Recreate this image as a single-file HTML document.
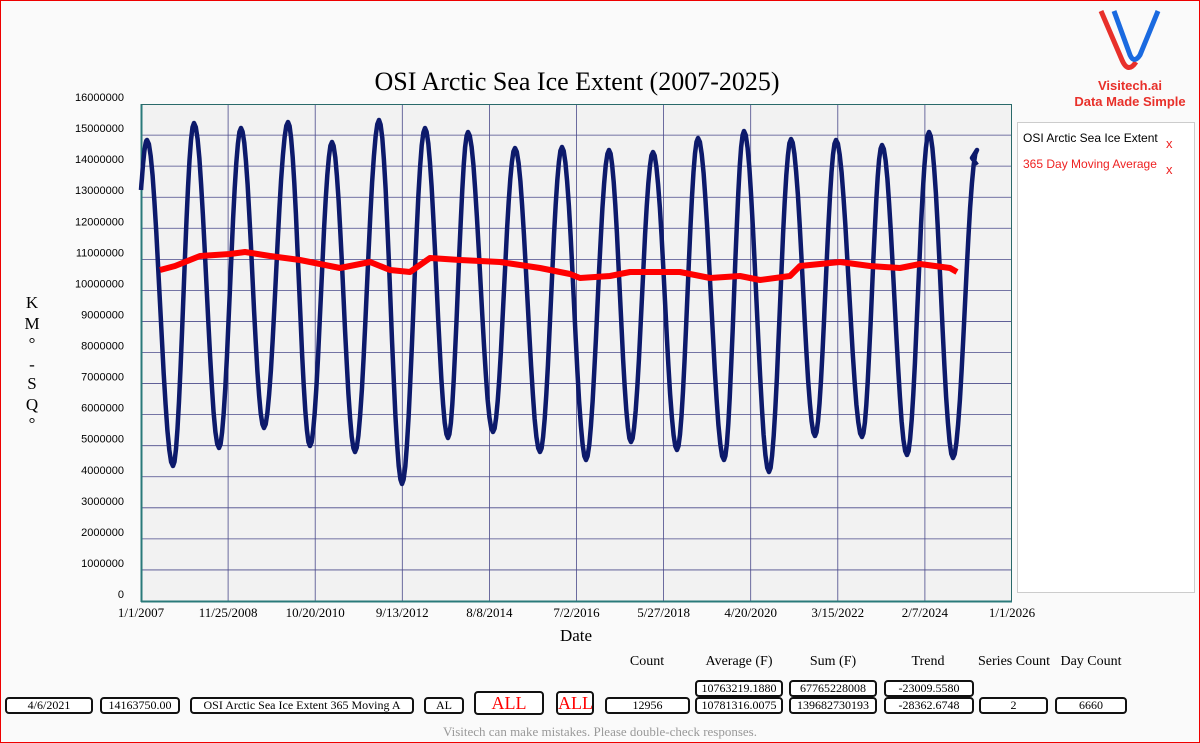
<!DOCTYPE html>
<html><head><meta charset="utf-8"><style>
body{margin:0;width:1200px;height:743px;overflow:hidden;background:#fafafa;font-family:"Liberation Serif",serif;}
#pg{position:absolute;left:0;top:0;width:1198px;height:741px;border:1px solid #e00;}
.b{position:absolute;border:2px solid #111;border-radius:4px;background:#fff;font-size:12px;text-align:center;box-sizing:border-box;line-height:13px;}
.h{position:absolute;font-size:14px;transform:translateX(-50%);white-space:nowrap;top:654px;}
.yl{position:absolute;left:24px;width:16px;text-align:center;font-size:17px;}
</style></head><body><div id="pg"></div>
<svg width="1200" height="743" style="position:absolute;left:0;top:0">
<rect x="141" y="104" width="871" height="497" fill="#f2f2f2"/>
<g id="grid" stroke="#4a4a8a" stroke-width="0.8"></g>
<line x1="141.5" y1="104" x2="141.5" y2="602" stroke="#2a7a7a" stroke-width="2"/>
<line x1="141" y1="601.5" x2="1012" y2="601.5" stroke="#2a7a7a" stroke-width="2"/>
<line x1="141" y1="104.5" x2="1012" y2="104.5" stroke="#2a6a6a" stroke-width="1"/>
<line x1="1011.5" y1="104" x2="1011.5" y2="601" stroke="#2a6a6a" stroke-width="1"/>
<g id="yt" font-family="Liberation Sans, sans-serif" font-size="11" text-anchor="end"></g>
<g id="xt" font-family="Liberation Serif, serif" font-size="13" text-anchor="middle"></g>
<path id="ice" fill="none" stroke="#0d1a6b" stroke-width="4.5" stroke-linejoin="round"/>
<path id="ma" fill="none" stroke="#f00" stroke-width="6" stroke-linejoin="round"/>
<text x="577" y="90" font-size="26" text-anchor="middle">OSI Arctic Sea Ice Extent (2007-2025)</text>
<text x="576" y="641" font-size="17" text-anchor="middle">Date</text>
<rect x="1017.5" y="122.5" width="177" height="470" fill="#fff" stroke="#ccc"/>
<text x="1023" y="142" font-family="Liberation Sans, sans-serif" font-size="12">OSI Arctic Sea Ice Extent</text>
<text x="1166" y="148" font-family="Liberation Sans, sans-serif" font-size="13" fill="#e22">x</text>
<text x="1023" y="168" font-family="Liberation Sans, sans-serif" font-size="12" fill="#e22">365 Day Moving Average</text>
<text x="1166" y="174" font-family="Liberation Sans, sans-serif" font-size="13" fill="#e22">x</text>
<path d="M1101 11 L1122 60 Q1128 74 1136 62" fill="none" stroke="#e8302a" stroke-width="5"/>
<path d="M1114 11 L1130 55 Q1134 64 1140 55 L1158 11" fill="none" stroke="#1a6ae0" stroke-width="5"/>
<text x="1130" y="90" font-family="Liberation Sans, sans-serif" font-size="13" font-weight="bold" fill="#e8302a" text-anchor="middle">Visitech.ai</text>
<text x="1130" y="106" font-family="Liberation Sans, sans-serif" font-size="13" font-weight="bold" fill="#e8302a" text-anchor="middle">Data Made Simple</text>
<text x="600" y="736" font-size="13" fill="#999" text-anchor="middle">Visitech can make mistakes. Please double-check responses.</text>
</svg>
<div class="yl" style="top:293px">K</div><div class="yl" style="top:314px">M</div><div class="yl" style="top:334px">°</div><div class="yl" style="top:355px">-</div><div class="yl" style="top:374px">S</div><div class="yl" style="top:395px">Q</div><div class="yl" style="top:414px">°</div>
<div class="h" style="left:647px">Count</div><div class="h" style="left:739px">Average (F)</div><div class="h" style="left:833px">Sum (F)</div><div class="h" style="left:928px">Trend</div><div class="h" style="left:1014px">Series Count</div><div class="h" style="left:1091px">Day Count</div>
<div class="b" style="left:5px;top:697px;width:88px;height:17px">4/6/2021</div>
<div class="b" style="left:100px;top:697px;width:80px;height:17px">14163750.00</div>
<div class="b" style="left:190px;top:697px;width:224px;height:17px">OSI Arctic Sea Ice Extent 365 Moving A</div>
<div class="b" style="left:424px;top:697px;width:40px;height:17px">AL</div>
<div class="b" style="left:474px;top:691px;width:70px;height:24px;color:#f00;font-size:18px;line-height:20px">ALL</div>
<div class="b" style="left:556px;top:691px;width:38px;height:24px;color:#f00;font-size:18px;line-height:20px">ALL</div>
<div class="b" style="left:605px;top:697px;width:85px;height:17px">12956</div>
<div class="b" style="left:695px;top:680px;width:88px;height:17px">10763219.1880</div>
<div class="b" style="left:695px;top:697px;width:88px;height:17px">10781316.0075</div>
<div class="b" style="left:789px;top:680px;width:88px;height:17px">67765228008</div>
<div class="b" style="left:789px;top:697px;width:88px;height:17px">139682730193</div>
<div class="b" style="left:884px;top:680px;width:90px;height:17px">-23009.5580</div>
<div class="b" style="left:884px;top:697px;width:90px;height:17px">-28362.6748</div>
<div class="b" style="left:979px;top:697px;width:69px;height:17px">2</div>
<div class="b" style="left:1055px;top:697px;width:72px;height:17px">6660</div>
<script>
var ns="http://www.w3.org/2000/svg";
function el(p,t,a,txt){var e=document.createElementNS(ns,t);for(var k in a)e.setAttribute(k,a[k]);if(txt!==undefined)e.textContent=txt;p.appendChild(e);}
var g=document.getElementById('grid'),yt=document.getElementById('yt'),xt=document.getElementById('xt');
for(var i=0;i<=16;i++){var y=601-i*31.06;if(i>0&&i<16)el(g,'line',{x1:141,x2:1012,y1:y,y2:y});el(yt,'text',{x:124,y:y-3},i==0?'0':String(i*1000000));}
var xl=['1/1/2007','11/25/2008','10/20/2010','9/13/2012','8/8/2014','7/2/2016','5/27/2018','4/20/2020','3/15/2022','2/7/2024','1/1/2026'];
for(var i=0;i<=10;i++){var x=141+i*87.1;if(i>0&&i<10)el(g,'line',{x1:x,x2:x,y1:104,y2:601});el(xt,'text',{x:x,y:617},xl[i]);}
var pk=[[147,140],[194,123],[241,128],[288,122],[332,142],[379,120],[425,128],[468,132],[515,148],[562,147],[609,150],[653,152],[698,138],[744,131],[791,139],[836,140],[882,145],[929,132],[977,150]];
var tr=[[173,466],[219,448],[264,428],[310,446],[355,452],[402,484],[448,438],[493,432],[540,452],[586,460],[631,442],[677,450],[724,460],[769,472],[815,436],[862,437],[907,455],[953,458]];
var pts=[[141,190]];for(var i=0;i<pk.length;i++){pts.push(pk[i]);if(tr[i])pts.push(tr[i]);}
var d='M141 190';
for(var i=0;i<pts.length-1;i++){var a=pts[i],b=pts[i+1];
for(var s=1;s<=14;s++){var t=s/14;var x=a[0]+(b[0]-a[0])*t;var f=(1-Math.cos(Math.PI*t))/2;
if(i==0)f=Math.sin(Math.PI/2*t);var y=a[1]+(b[1]-a[1])*f;
d+=' L'+x.toFixed(1)+' '+y.toFixed(1);}}
d+=' L972 158 L977 165';
document.getElementById('ice').setAttribute('d',d);
var m=[[160,270],[175,266],[200,256],[230,254],[245,252],[270,256],[300,260],[340,268],[370,262],[390,270],[410,272],[430,258],[460,260],[500,262],[540,268],[570,274],[580,278],[610,276],[630,272],[680,272],[710,278],[740,276],[760,280],[790,276],[800,266],[840,262],[870,266],[900,268],[920,264],[950,268],[957,272]];
document.getElementById('ma').setAttribute('d','M'+m.map(function(p){return p.join(' ')}).join(' L'));
</script>
</body></html>
